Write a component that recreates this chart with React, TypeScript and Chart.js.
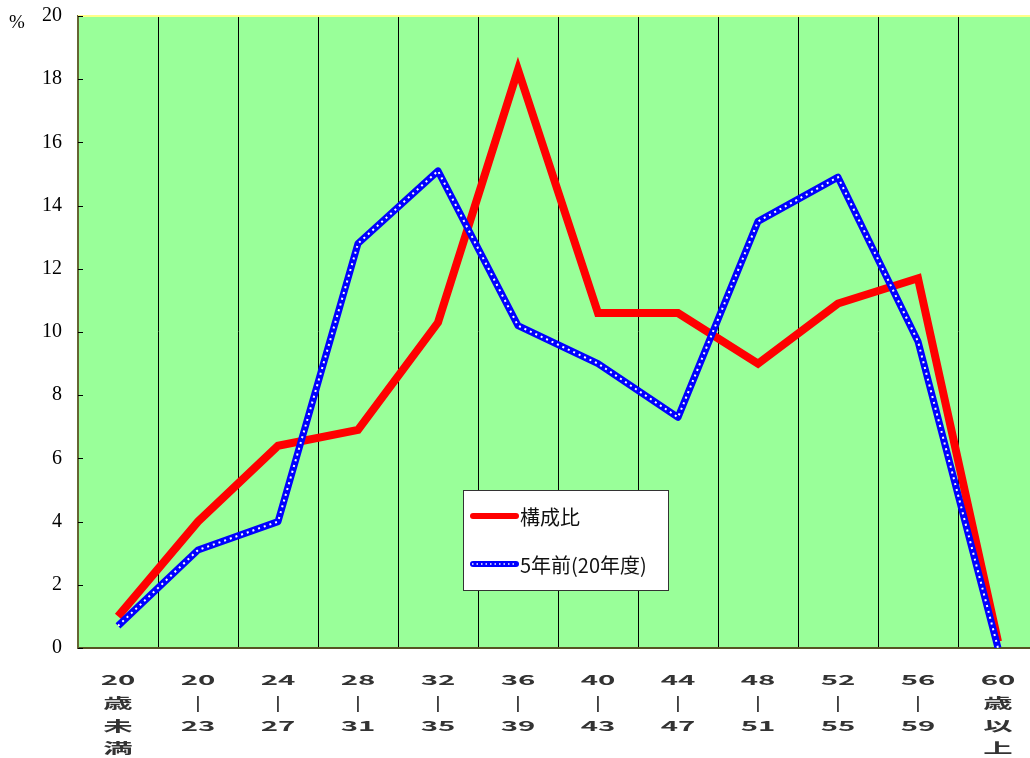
import React, { useEffect, useRef } from "react";
import { Chart, registerables } from "chart.js";

Chart.register(...registerables);

const ageLabels: string[][] = [
  ["20", "歳", "未", "満"],
  ["20", "|", "23"],
  ["24", "|", "27"],
  ["28", "|", "31"],
  ["32", "|", "35"],
  ["36", "|", "39"],
  ["40", "|", "43"],
  ["44", "|", "47"],
  ["48", "|", "51"],
  ["52", "|", "55"],
  ["56", "|", "59"],
  ["60", "歳", "以", "上"],
];

const composition = [1.0, 4.0, 6.4, 6.9, 10.3, 18.3, 10.6, 10.6, 9.0, 10.9, 11.7, 0.2];
const fiveYearsAgo = [0.7, 3.1, 4.0, 12.8, 15.1, 10.2, 9.0, 7.3, 13.5, 14.9, 9.7, 0.0];
const yTickValues = [0, 2, 4, 6, 8, 10, 12, 14, 16, 18, 20];
const seriesNames = ["構成比", "5年前(20年度)"];
const yUnit = "%";

const decorPlugin = {
  id: "decor",
  beforeDraw(chart: any) {
    const { ctx, chartArea: a } = chart;
    ctx.save();
    ctx.fillStyle = "#99ff99";
    ctx.fillRect(a.left, a.top, a.right - a.left, a.bottom - a.top);
    ctx.restore();
  },
  afterDraw(chart: any) {
    const { ctx, chartArea: a } = chart;
    const xs = chart.scales.x;
    const ys = chart.scales.y;
    ctx.save();
    // top border
    ctx.strokeStyle = "#ffff88";
    ctx.lineWidth = 2;
    ctx.beginPath();
    ctx.moveTo(a.left, a.top);
    ctx.lineTo(a.right, a.top);
    ctx.stroke();
    // inward y ticks
    ctx.strokeStyle = "#000";
    ctx.lineWidth = 1;
    yTickValues.forEach((v) => {
      const y = Math.round(ys.getPixelForValue(v)) + 0.5;
      ctx.beginPath();
      ctx.moveTo(a.left, y);
      ctx.lineTo(a.left + 5, y);
      ctx.stroke();
    });
    // unit
    ctx.fillStyle = "#000";
    ctx.font = '19px "Liberation Serif"';
    ctx.textAlign = "center";
    ctx.textBaseline = "middle";
    ctx.fillText(yUnit, 17, 23);
    // x labels (stretched horizontally)
    ctx.font = 'bold 14px "Noto Sans CJK JP"';
    ctx.fillStyle = "#333";
    ageLabels.forEach((lines, i) => {
      const x = xs.getPixelForValue(i);
      lines.forEach((line, j) => {
        ctx.save();
        ctx.translate(x, a.bottom + 32 + j * 22.7);
        ctx.scale(line === "|" ? 1.3 : 2.1, 1);
        ctx.fillText(line, 0, 0);
        ctx.restore();
      });
    });
    // legend
    const lx = 463.5, ly = 490.5, lw = 205, lh = 100;
    ctx.fillStyle = "#fff";
    ctx.fillRect(lx, ly, lw, lh);
    ctx.strokeStyle = "#333";
    ctx.lineWidth = 1;
    ctx.strokeRect(lx, ly, lw, lh);
    ctx.lineCap = "round";
    ctx.strokeStyle = "#ff0000";
    ctx.lineWidth = 6;
    ctx.beginPath();
    ctx.moveTo(473, 516);
    ctx.lineTo(516, 516);
    ctx.stroke();
    ctx.strokeStyle = "#0000ff";
    ctx.beginPath();
    ctx.moveTo(473, 564);
    ctx.lineTo(516, 564);
    ctx.stroke();
    ctx.lineCap = "butt";
    ctx.strokeStyle = "#ffffff";
    ctx.lineWidth = 1.5;
    ctx.setLineDash([1.5, 3]);
    ctx.beginPath();
    ctx.moveTo(472, 564);
    ctx.lineTo(517, 564);
    ctx.stroke();
    ctx.setLineDash([]);
    ctx.fillStyle = "#111";
    ctx.font = '20px "Noto Sans CJK JP"';
    ctx.textAlign = "left";
    ctx.textBaseline = "middle";
    ctx.fillText(seriesNames[0], 520, 517);
    ctx.fillText(seriesNames[1], 520, 565);
    ctx.restore();
  },
};

export default function App() {
  const ref = useRef<HTMLCanvasElement | null>(null);
  useEffect(() => {
    if (!ref.current) return;
    const chart = new Chart(ref.current, {
      type: "line",
      data: {
        labels: ageLabels,
        datasets: [
          {
            label: seriesNames[1] + " dots",
            data: fiveYearsAgo,
            borderColor: "#ffffff",
            borderWidth: 2,
            borderDash: [2, 4],
            pointRadius: 0,
            fill: false,
          },
          {
            label: seriesNames[1],
            data: fiveYearsAgo,
            borderColor: "#0000ff",
            borderWidth: 7,
            borderJoinStyle: "round",
            pointRadius: 0,
            fill: false,
          },
          {
            label: seriesNames[0],
            data: composition,
            borderColor: "#ff0000",
            borderWidth: 8,
            borderJoinStyle: "miter",
            pointRadius: 0,
            fill: false,
          },
        ],
      },
      options: {
        responsive: false,
        animation: false,
        devicePixelRatio: 1,
        layout: { padding: { top: 16, right: 2, left: 0, bottom: 0 } },
        plugins: { legend: { display: false }, tooltip: { enabled: false } },
        scales: {
          x: {
            type: "category",
            offset: true,
            grid: { offset: true, color: "#000", lineWidth: 1, drawTicks: false },
            border: { color: "#555522", width: 2 },
            ticks: { display: false },
            afterFit: (s: any) => {
              s.height = 110;
              s.paddingLeft = 0;
              s.paddingRight = 0;
            },
          },
          y: {
            min: 0,
            max: 20,
            afterBuildTicks: (s: any) => {
              s.ticks = yTickValues.map((v) => ({ value: v }));
            },
            grid: { drawOnChartArea: false, drawTicks: false },
            border: { color: "#666633", width: 2 },
            ticks: {
              padding: 16,
              color: "#000",
              font: { family: "Liberation Serif", size: 20 },
            },
            afterFit: (s: any) => {
              s.width = 78;
              s.paddingTop = 0;
              s.paddingBottom = 0;
            },
          },
        },
      },
      plugins: [decorPlugin],
    } as any);
    return () => chart.destroy();
  }, []);
  return (
    <div
      style={{
        position: "fixed",
        left: 0,
        top: 0,
        width: 1030,
        height: 758,
        overflow: "hidden",
        background: "#fff",
      }}
    >
      <canvas ref={ref} width={1040} height={758} style={{ display: "block" }} />
    </div>
  );
}
